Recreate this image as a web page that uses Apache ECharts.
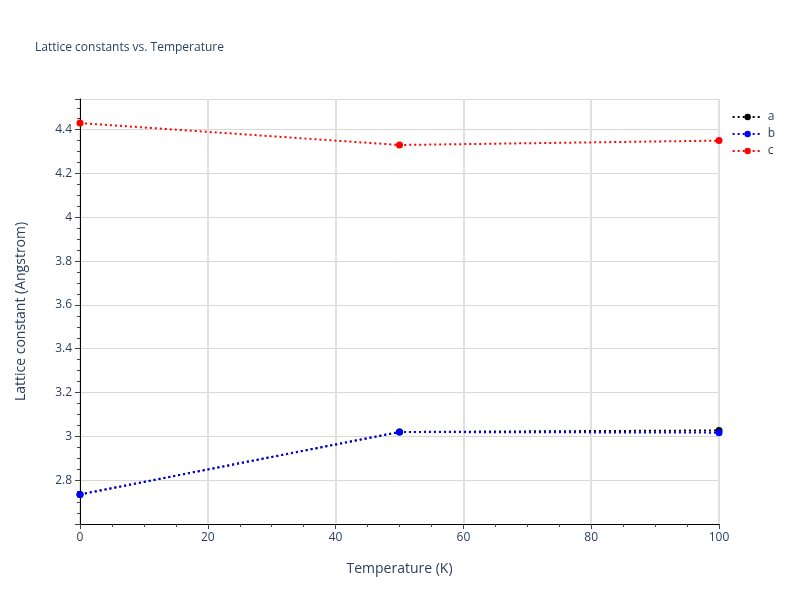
<!DOCTYPE html>
<html>
<head>
<meta charset="UTF-8" />
<script src="https://cdn.jsdelivr.net/npm/echarts@6/dist/echarts.min.js"></script>
<style>html,body,#main{margin:0;padding:0;width:800px;height:600px;background:#fff;}</style>
</head>
<body>
<div id="main"></div>
<script>
const temps = [0, 50, 100];
const aVals = [2.735, 3.02, 3.027];
const bVals = [2.735, 3.02, 3.017];
const cVals = [4.43, 4.33, 4.35];

const chart = echarts.init(document.getElementById('main'));
const mk = (name, vals, color) => ({
  name, type: 'line', data: temps.map((t, i) => [t, vals[i]]),
  symbol: 'circle', symbolSize: 7, itemStyle: { color },
  lineStyle: { color, width: 2, type: [2, 3] }
});
chart.setOption({
  textStyle: { fontFamily: 'Open Sans, sans-serif', color: '#444' },
  title: { text: 'Lattice constants vs. Temperature', left: 30, top: 37,
    textStyle: { fontSize: 12, fontWeight: 'normal', color: '#2a3f5f' } },
  legend: { orient: 'vertical', right: 20, top: 106, itemGap: 5, itemWidth: 30, itemHeight: 8,
    textStyle: { fontSize: 12, color: '#2a3f5f' },
    data: ['a', 'b', 'c'] },
  grid: { left: 80, right: 81, top: 99, bottom: 76 },
  xAxis: { type: 'value', min: 0, max: 100, interval: 20,
    name: 'Temperature (K)', nameLocation: 'middle', nameGap: 38,
    nameTextStyle: { fontSize: 14, color: '#2a3f5f' },
    axisLine: { lineStyle: { color: '#000' } },
    axisTick: { show: true, length: 5, lineStyle: { color: '#444' } },
    minorTick: { show: true, splitNumber: 4, length: 3, lineStyle: { color: '#444' } },
    axisLabel: { color: '#2a3f5f', fontSize: 12 },
    splitLine: { lineStyle: { color: '#e0e0e0', width: 2 } } },
  yAxis: { type: 'value', min: 2.6, max: 4.54, interval: 0.2,
    name: 'Lattice constant (Angstrom)', nameLocation: 'middle', nameGap: 52,
    nameTextStyle: { fontSize: 14, color: '#2a3f5f' },
    axisLine: { show: true, lineStyle: { color: '#000' } },
    axisTick: { show: true, length: 5, lineStyle: { color: '#444' } },
    minorTick: { show: true, splitNumber: 4, length: 3, lineStyle: { color: '#444' } },
    axisLabel: { color: '#2a3f5f', fontSize: 12, showMinLabel: false, showMaxLabel: false,
      formatter: v => String(Math.round(v * 10) / 10) },
    splitLine: { lineStyle: { color: '#d8d8d8' } } },
  series: [mk('a', aVals, '#000000'), mk('b', bVals, '#0000ff'), mk('c', cVals, '#ff0000')]
});
</script>
</body>
</html>
